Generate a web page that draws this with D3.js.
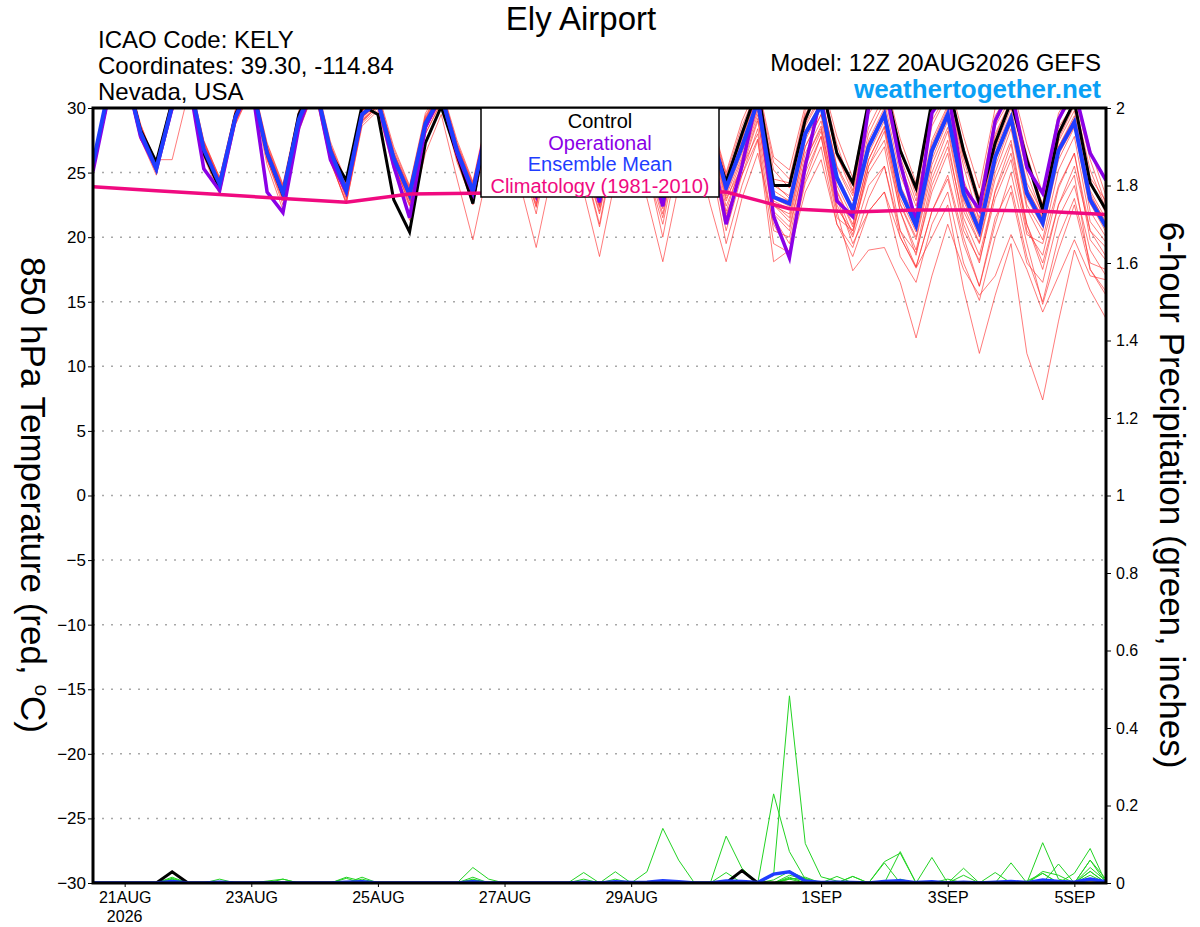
<!DOCTYPE html>
<html>
<head>
<meta charset="utf-8">
<script src="https://d3js.org/d3.v7.min.js"></script>
<style>
body { margin: 0; background: #fff; }
svg { display: block; }
text { font-family: "Liberation Sans", Arial, Helvetica, sans-serif; }
</style>
</head>
<body>
<div id="chart"></div>
<script>
// forecast hours from 12Z 20AUG2026, 6-hourly
var hours = [0,6,12,18,24,30,36,42,48,54,60,66,72,78,84,90,96,102,108,114,120,126,132,138,144,150,156,162,168,174,180,186,192,198,204,210,216,222,228,234,240,246,252,258,264,270,276,282,288,294,300,306,312,318,324,330,336,342,348,354,360,366,372,378,384];

var dayTicks = [12, 60, 108, 156, 204, 276, 324, 372];
var dayLabels = ["21AUG", "23AUG", "25AUG", "27AUG", "29AUG", "1SEP", "3SEP", "5SEP"];
var tempTicks = [-30,-25,-20,-15,-10,-5,0,5,10,15,20,25,30];
var precipTicks = [0,0.2,0.4,0.6,0.8,1,1.2,1.4,1.6,1.8,2];

// 850 hPa temperature (C)
var control = [25.5,31,33,28.3, 25.8,30.5,32.5,26.5, 23.8,29.5,32,26.5, 23.3,29.5,32,26.5, 24.4,30.2,29.5,22.9, 20.4,27.3,30.1,26.4, 22.6,29.5,32.5,27.5, 23.5,30,32.5,27.5, 23.4,29.5,32,27.5, 23.8,29.5,32,28, 24.3,28,31.5,24.0, 24.0,29.1,32,26.5, 24.2,30.5,32,26.7, 23.8,30.5,32,26.7, 22.6,27.3,30.5,26.0, 22.1,28.0,30.5,24.2, 22.1];
var operational = [25.1,31,33,27.8, 25.3,30,32.5,25.3, 23.6,29.2,32,23.5, 21.9,28.5,32,26, 23.5,29.5,30.5,25.5, 21.5,28.5,31,26.5, 23.4,29.5,32,27, 23.3,29.5,32.5,27, 22.7,29,32,26.5, 22.4,29,32,27.5, 21.0,25.5,31,21.6, 18.4,25.5,31,22.8, 21.6,30,32,25.7, 21.2,29.6,31.5,23.9, 22.1,29,31.5,25.4, 23.4,29.1,31.5,26.5, 24.4];
var ensMean = [25.7,31.5,33,28.1, 25.3,30.2,32.5,26.8, 24.1,29.3,32,26.5, 23.4,29.1,32,26.7, 23.6,29.5,30.5,26.1, 23.3,28.8,31,26.7, 23.6,29,32,27, 23.8,29.5,32,27, 23.3,29,32,27, 23.4,29,31.5,28.5, 23.8,27,30.5,23.1, 22.6,28,30.2,24.6, 22.1,27,29.5,23.6, 20.9,26.7,29.5,23.4, 20.5,26.2,29.2,23.4, 21.1,26.7,28.9,22.9, 20.8];

var climHours = [0,24,48,72,96,120,144,168,192,216,240,264,288,312,336,360,384];
var climatology = [23.9,23.6,23.3,23.0,22.7,23.35,23.4,23.45,23.5,23.5,23.5,22.2,21.95,22.1,22.1,22.0,21.75];

var member01 = [25.9,31.2,33.1,28.6, 25.6,30.4,32.6,27.2, 24.4,29.6,32.2,27.0, 23.8,29.4,32.3,27.1, 24.1,29.8,30.8,26.5, 23.8,29.0,31.3,27.2, 24.0,29.6,32.4,27.6, 24.3,30.0,32.5,27.5, 23.9,29.6,32.4,27.6, 24.1,29.8,32.0,29.0, 24.6,28.0,31.2,24.5, 24.2,29.5,31.8,26.2, 24.0,30.2,31.8,26.6, 23.6,29.8,31.5,26.3, 22.9,28.0,30.6,25.5, 22.6,28.5,30.4,24.6, 22.8];
var member02 = [25.4,31.0,32.8,27.8, 25.0,29.8,32.2,26.4, 23.6,29.0,31.7,26.0, 22.8,28.7,31.6,26.2, 23.0,29.0,30.2,25.6, 22.6,28.4,30.6,26.0, 22.8,28.5,31.4,26.2, 22.6,28.7,31.2,26.0, 21.8,27.8,30.8,25.6, 21.5,27.5,30.2,27.0, 21.6,25.2,29.0,22.0, 20.8,26.0,28.4,23.0, 19.5,22.0,23.5,20.0, 17.6,20.0,22.5,16.0, 11.0,15.5,19.5,11.0, 7.4,13.5,19.0,15.9, 13.7];
var member03 = [25.6,31.4,32.9,28.0, 25.4,30.0,32.4,26.6, 24.0,29.2,31.8,26.2, 23.2,29.0,31.8,26.4, 23.4,29.2,30.4,25.8, 23.0,28.6,30.8,26.3, 23.2,28.8,31.5,26.5, 22.4,28.2,31.0,25.6, 20.8,27.0,30.4,25.2, 21.0,27.0,30.0,26.5, 20.5,24.8,28.4,21.5, 19.5,25.0,27.8,22.0, 17.4,19.0,19.2,16.5, 12.2,17.0,21.0,17.5, 15.5,17.0,20.2,17.5, 14.2,17.0,19.8,17.0, 16.7];
var member04 = [25.5,31.3,33.0,27.9, 25.2,30.1,32.3,26.5, 23.8,29.1,31.9,26.3, 23.0,28.8,31.7,26.0, 22.6,28.8,30.0,25.5, 21.3,26.5,29.5,24.5, 19.8,25.5,29.0,24.0, 19.2,25.0,28.5,23.5, 18.5,24.5,28.0,23.0, 18.1,24.0,27.5,22.5, 18.1,23.0,26.5,21.0, 18.8,23.5,26.0,21.0, 19.2,23.0,25.5,20.5, 17.7,22.0,24.8,20.0, 16.2,21.0,25.0,19.5, 14.8,19.0,22.5,17.5, 15.8];
var member05 = [25.8,31.6,33.2,28.3, 25.0,30.0,32.2,26.4, 23.5,28.8,31.5,26.0, 22.5,28.4,31.3,25.8, 22.8,28.9,30.2,25.7, 22.5,28.0,30.5,26.0, 22.5,28.4,31.2,26.2, 21.8,28.0,31.0,25.8, 21.0,27.5,30.6,25.5, 20.0,26.5,29.5,26.0, 19.5,24.0,27.5,18.1, 19.0,24.5,27.8,21.5, 20.5,25.5,27.5,22.0, 18.6,24.0,27.0,21.5, 18.6,23.5,26.5,21.0, 17.5,22.5,25.5,20.5, 18.5];
var member06 = [25.6,31.6,33.2,28.4, 25.9,30.8,32.8,27.4, 24.6,29.8,32.4,27.2, 24.0,29.6,32.4,27.2, 24.2,30.0,31.0,26.8, 23.9,29.4,31.5,27.3, 24.2,29.8,32.6,27.8, 24.4,30.2,32.6,27.6, 23.8,29.6,32.5,27.8, 24.2,29.9,32.0,29.2, 24.8,28.6,31.5,25.8, 24.5,29.8,32.0,27.2, 23.6,30.0,32.0,27.0, 23.2,30.0,32.0,27.0, 23.0,29.4,31.4,26.4, 22.4,29.0,31.0,26.0, 22.5];
var member07 = [25.7,31.5,33.0,28.2, 25.5,30.2,32.4,26.9, 24.2,29.4,32.0,26.7, 23.5,29.2,32.1,26.8, 23.7,29.6,30.6,26.2, 23.3,28.9,31.1,26.8, 23.5,29.0,32.0,27.0, 23.6,29.4,32.0,26.8, 23.0,28.8,31.8,26.8, 23.2,28.8,31.3,28.0, 23.4,26.5,30.2,22.8, 22.2,27.5,30.0,24.0, 21.5,26.5,29.0,23.0, 20.4,26.0,29.0,22.8, 20.0,25.5,28.8,22.5, 20.5,26.0,28.5,22.0, 20.0];
var member08 = [25.9,31.0,32.6,27.5, 26.0,26.0,31.0,27.4, 24.4,29.5,32.2,26.9, 23.6,29.3,32.2,27.0, 23.9,29.7,30.7,26.3, 23.6,29.1,31.2,27.0, 23.8,29.3,32.2,27.2, 23.9,29.6,32.2,27.1, 23.5,29.2,32.0,27.2, 23.6,29.3,31.8,28.6, 24.0,27.8,31.0,24.2, 23.0,28.6,30.8,25.4, 22.8,28.0,30.5,24.8, 21.8,27.5,30.2,24.4, 21.5,27.0,30.0,24.2, 21.8,27.4,29.8,23.6, 21.4];
var member09 = [25.3,31.1,32.7,27.6, 24.8,29.7,32.0,26.2, 23.3,28.7,31.4,25.6, 22.1,28.2,31.4,25.9, 22.6,28.6,29.8,25.2, 22.4,28.0,30.4,25.8, 22.6,28.2,31.4,26.2, 22.3,28.4,31.2,26.0, 22.0,28.0,31.0,26.0, 21.8,27.8,30.6,27.2, 22.0,25.8,29.5,22.5, 21.2,26.5,29.0,23.2, 20.2,25.5,28.2,22.0, 19.0,24.5,27.5,21.0, 18.0,23.6,27.2,20.5, 18.6,23.8,26.5,19.8, 18.2];
var member10 = [25.8,31.8,33.4,28.8, 25.4,30.6,32.8,27.0, 24.3,29.6,32.3,26.8, 23.6,29.4,32.2,27.0, 23.8,29.8,30.9,26.4, 23.5,29.2,31.4,27.0, 23.9,29.4,32.3,27.4, 24.0,29.8,32.3,27.3, 23.6,29.4,32.2,27.4, 23.8,29.5,31.8,28.8, 24.2,27.6,31.0,24.0, 23.2,28.8,31.0,25.5, 23.2,28.5,31.0,25.6, 22.4,28.6,31.0,25.5, 21.2,27.8,30.5,25.0, 21.6,27.6,30.2,24.4, 21.8];
var member11 = [25.5,31.3,32.8,27.9, 25.1,30.0,32.3,26.6, 23.9,29.1,31.8,26.3, 23.1,28.9,31.8,26.4, 23.3,29.3,30.3,25.9, 23.0,28.6,30.8,26.4, 23.2,28.8,31.8,26.6, 23.0,29.0,31.6,26.4, 22.5,28.4,31.4,26.4, 22.6,28.4,31.0,27.6, 22.8,26.0,29.8,22.6, 21.5,27.0,29.5,23.5, 20.8,26.0,28.5,22.5, 19.8,25.0,28.2,22.0, 19.5,24.5,27.5,21.0, 18.0,22.5,24.8,17.5, 15.5];
var member12 = [25.6,31.4,32.9,28.0, 25.3,30.2,32.5,26.8, 24.0,29.2,31.9,26.4, 23.3,29.0,31.9,26.6, 23.5,29.4,30.4,26.0, 23.1,28.7,30.9,26.6, 23.4,28.9,31.9,26.9, 23.7,29.3,31.9,26.9, 23.2,28.9,31.9,27.0, 23.3,28.9,31.4,28.3, 23.6,26.8,30.4,23.0, 22.4,27.8,30.0,24.4, 22.0,26.8,29.4,23.4, 20.6,26.4,29.2,23.0, 20.2,26.0,29.0,23.0, 20.8,26.4,28.6,22.6, 20.4];
var member13 = [25.7,31.4,33.0,28.0, 25.2,30.1,32.4,26.7, 23.9,29.2,31.9,26.4, 23.2,28.9,31.8,26.4, 23.4,29.3,30.4,26.0, 23.2,28.6,30.9,26.5, 23.3,28.8,31.8,26.7, 23.2,29.0,31.6,26.5, 22.6,28.6,31.5,26.5, 22.4,28.2,30.8,27.4, 22.4,25.5,29.2,21.8, 20.5,26.0,28.6,22.5, 20.0,24.0,25.5,20.0, 17.7,22.0,24.5,19.5, 16.2,21.5,24.0,18.5, 15.0,20.0,23.0,18.0, 17.5];
var member14 = [25.8,31.6,33.1,28.3, 25.6,30.5,32.7,27.1, 24.5,29.7,32.3,27.0, 23.9,29.5,32.3,27.1, 24.0,29.9,30.9,26.6, 23.7,29.3,31.4,27.1, 24.1,29.6,32.4,27.6, 24.2,30.0,32.4,27.4, 23.7,29.5,32.3,27.6, 24.0,29.7,31.9,29.0, 24.4,28.2,31.3,25.2, 23.8,29.4,31.6,26.4, 23.4,29.5,31.5,26.2, 22.8,29.0,31.2,26.0, 22.2,28.6,30.8,25.8, 22.0,28.2,30.6,25.2, 22.2];
var member15 = [25.4,31.2,32.8,27.7, 25.0,29.9,32.1,26.3, 23.7,28.9,31.6,26.1, 22.9,28.6,31.6,26.2, 23.1,29.0,30.1,25.6, 22.8,28.4,30.6,26.1, 23.0,28.6,31.6,26.4, 22.9,28.8,31.4,26.2, 22.4,28.4,31.2,26.2, 22.8,28.5,31.0,27.8, 23.0,25.4,28.0,20.5, 20.0,25.5,28.2,22.2, 20.5,25.0,27.0,20.5, 18.8,23.5,26.5,20.5, 18.2,23.0,26.0,20.2, 19.5,24.0,26.5,20.5, 19.2];
var member16 = [25.7,31.7,33.2,28.5, 25.7,30.6,32.7,27.3, 24.3,29.6,32.2,26.9, 23.7,29.4,32.2,27.0, 23.9,29.8,30.8,26.5, 23.5,29.1,31.3,27.0, 23.7,29.2,32.2,27.2, 23.9,29.7,32.2,27.2, 23.4,29.2,32.2,27.3, 23.5,29.1,31.6,28.6, 23.9,27.4,30.8,23.6, 22.8,28.2,30.4,24.8, 22.4,27.5,30.0,24.0, 21.4,27.2,30.0,24.0, 21.0,26.8,29.6,23.8, 21.4,27.0,29.4,23.4, 21.0];
var member17 = [25.5,31.2,32.9,27.9, 25.1,30.0,32.3,26.5, 23.8,29.0,31.7,26.2, 23.0,28.8,31.7,26.3, 23.2,29.1,30.2,25.8, 22.9,28.5,30.7,26.2, 23.1,28.6,31.6,26.4, 22.9,28.8,31.4,26.3, 22.3,28.4,31.3,26.3, 22.2,28.2,30.8,27.2, 21.8,24.8,27.6,19.5, 18.8,24.2,27.0,21.0, 18.5,22.0,23.5,18.5, 16.5,21.0,23.5,18.0, 15.1,20.0,23.5,18.0, 16.5,21.5,24.0,19.0, 17.0];
var member18 = [25.9,31.4,32.9,28.1, 25.4,30.3,32.5,26.9, 24.1,29.3,32.0,26.6, 23.4,29.1,32.0,26.8, 23.6,29.5,30.5,26.1, 23.4,28.8,31.0,26.7, 23.6,29.0,32.0,27.0, 23.8,29.5,32.0,27.0, 23.3,29.0,32.0,27.0, 23.4,29.0,31.5,28.4, 23.8,27.0,30.6,23.2, 22.8,28.2,30.5,24.8, 21.8,27.2,29.8,23.8, 21.2,27.0,29.8,23.8, 20.8,26.5,29.4,23.8, 21.5,27.0,29.2,23.2, 21.2];
var member19 = [25.6,31.5,33.1,28.2, 25.3,30.3,32.6,26.9, 24.0,29.4,32.1,26.6, 23.2,29.0,31.9,26.6, 23.5,29.4,30.5,26.0, 23.1,28.7,30.9,26.5, 23.4,28.9,31.9,26.8, 23.5,29.3,31.8,26.7, 23.0,28.8,31.8,26.7, 23.0,28.7,31.2,28.0, 23.2,26.2,30.0,22.4, 21.8,27.0,29.5,23.6, 21.0,26.0,28.6,22.6, 20.0,25.6,28.5,22.4, 19.6,25.0,28.4,22.2, 19.8,25.2,27.8,21.2, 19.6];
var member20 = [25.8,31.8,33.3,28.7, 25.8,30.8,32.9,27.5, 24.6,29.9,32.5,27.3, 24.1,29.8,32.5,27.4, 24.3,30.2,31.2,27.0, 24.0,29.6,31.6,27.5, 24.3,30.0,32.8,28.0, 24.6,30.4,32.8,27.8, 24.0,29.8,32.6,28.0, 24.4,30.2,32.2,29.4, 25.0,29.0,31.8,26.2, 25.2,30.2,32.4,27.8, 24.6,30.6,32.4,27.6, 24.2,30.6,32.5,27.8, 23.8,30.0,32.0,27.2, 23.4,29.6,31.6,26.8, 23.2];
var members = [member01, member02, member03, member04, member05, member06, member07, member08, member09, member10,
               member11, member12, member13, member14, member15, member16, member17, member18, member19, member20];

// 6-hour precipitation (inches)
var precipControl = [0,0,0,0, 0,0.029,0,0, 0,0,0,0, 0,0,0,0, 0,0,0,0, 0,0,0,0, 0,0,0,0, 0,0,0,0, 0,0,0,0, 0,0,0,0, 0,0.032,0,0, 0,0,0,0, 0,0,0,0, 0,0,0,0, 0,0,0,0, 0,0,0,0, 0];
var precipMean = [0,0,0,0, 0,0.004,0,0, 0.002,0,0,0, 0,0,0,0, 0.002,0.003,0,0, 0,0,0,0, 0.003,0,0,0, 0,0,0,0.002, 0,0.003,0.001,0.002, 0.006,0.003,0,0, 0.005,0.004,0.001,0.023, 0.029,0.005,0.001,0.002, 0.001,0,0.004,0.006, 0.001,0.003,0,0.002, 0,0.002,0.004,0.001, 0.008,0.004,0.002,0.01, 0.003];
var precip01 = [0,0,0,0, 0,0.012,0,0, 0,0,0,0, 0,0,0,0, 0.015,0.005,0,0, 0,0,0,0, 0,0,0,0, 0,0,0,0, 0,0,0,0, 0,0,0,0, 0,0,0,0.02, 0.483,0.102,0.016,0.005, 0,0,0,0, 0,0,0,0.038, 0,0,0,0, 0.025,0,0,0.03, 0];
var precip02 = [0,0,0,0, 0,0.015,0,0, 0.01,0,0,0, 0,0,0,0, 0,0.015,0,0, 0,0,0,0, 0.04,0.01,0,0, 0,0,0,0.027, 0,0.01,0,0, 0,0,0,0, 0,0,0,0.23, 0.081,0.01,0,0, 0.017,0,0.052,0, 0,0,0,0, 0,0,0.052,0, 0,0.049,0,0.059, 0];
var precip03 = [0,0,0,0, 0,0.008,0,0, 0,0,0,0, 0.01,0,0,0, 0.012,0,0,0, 0,0,0,0, 0.01,0,0,0, 0,0,0,0, 0,0,0,0.029, 0.141,0.059,0,0, 0,0,0,0, 0.02,0.01,0,0.017, 0,0,0,0.081, 0,0,0,0, 0,0,0,0, 0.104,0.01,0,0, 0];
var precip04 = [0,0,0,0, 0,0.01,0,0, 0,0,0,0, 0,0,0,0, 0,0.01,0,0, 0,0,0,0, 0,0,0,0, 0,0,0,0.01, 0,0.029,0,0, 0,0,0,0, 0.121,0.038,0,0, 0.01,0,0,0, 0.017,0,0,0, 0,0.066,0,0, 0,0,0,0, 0,0,0.025,0.089, 0];
var precip05 = [0,0,0,0, 0,0,0,0, 0,0,0,0.005, 0.01,0,0,0, 0,0,0,0, 0,0,0,0, 0.015,0,0,0, 0,0,0,0, 0,0,0,0, 0,0,0,0, 0.027,0,0,0, 0.01,0.015,0,0, 0,0,0.055,0.077, 0,0,0,0.02, 0,0.027,0,0, 0,0,0,0.03, 0];
var precip06 = [0,0,0,0, 0,0.006,0,0, 0,0,0,0, 0,0,0,0, 0,0,0,0, 0,0,0,0, 0,0,0,0, 0,0,0,0, 0,0,0,0, 0,0,0,0, 0,0,0,0, 0.015,0,0,0, 0,0,0,0, 0,0,0,0, 0,0,0,0.005, 0.025,0,0,0.059, 0.01];
var precip07 = [0,0,0,0, 0,0,0,0, 0,0,0,0, 0,0,0,0, 0,0,0,0, 0,0,0,0, 0.008,0,0,0, 0,0,0,0, 0,0,0,0, 0,0,0,0, 0,0,0,0, 0.012,0.008,0,0, 0,0,0,0.01, 0,0,0,0, 0,0,0,0, 0.03,0.02,0,0.04, 0.005];
var precip08 = [0,0,0,0, 0,0.004,0,0, 0,0,0,0, 0,0,0,0, 0,0,0,0, 0,0,0,0, 0,0,0,0, 0,0,0,0, 0,0,0,0, 0,0,0,0, 0,0,0,0.008, 0.03,0.012,0,0, 0,0,0,0, 0,0,0.01,0, 0,0,0,0, 0,0,0,0.02, 0];
var precipMembers = [precip01, precip02, precip03, precip04, precip05, precip06, precip07, precip08];

var W = 1200, H = 927;
var plotLeft = 93, plotRight = 1106, plotTop = 108, plotBottom = 883;

var svg = d3.select("#chart").append("svg")
  .attr("width", W)
  .attr("height", H);

var x = d3.scaleLinear().domain([0, 384]).range([plotLeft, plotRight]);
var yT = d3.scaleLinear().domain([-30, 30]).range([plotBottom, plotTop]);
var yP = d3.scaleLinear().domain([0, 2]).range([plotBottom, plotTop]);

svg.append("clipPath").attr("id", "plotclip")
  .append("rect")
  .attr("x", plotLeft).attr("y", plotTop - 1)
  .attr("width", plotRight - plotLeft).attr("height", plotBottom - plotTop + 1);

// dotted grid on temperature ticks
svg.append("g").selectAll("line")
  .data(tempTicks.slice(1, -1))
  .enter().append("line")
  .attr("x1", plotLeft).attr("x2", plotRight)
  .attr("y1", function(d) { return yT(d); })
  .attr("y2", function(d) { return yT(d); })
  .attr("stroke", "#a8a8a8")
  .attr("stroke-width", 1.5)
  .attr("stroke-dasharray", "2,7");

var plot = svg.append("g").attr("clip-path", "url(#plotclip)");

var tLine = d3.line()
  .x(function(d, i) { return x(hours[i]); })
  .y(function(d) { return yT(d); });

var pLine = d3.line()
  .x(function(d, i) { return x(hours[i]); })
  .y(function(d) { return yP(d); });

var climLine = d3.line()
  .x(function(d, i) { return x(climHours[i]); })
  .y(function(d) { return yT(d); });

// ensemble members
plot.selectAll(".member")
  .data(members)
  .enter().append("path")
  .attr("class", "member")
  .attr("d", tLine)
  .attr("fill", "none")
  .attr("stroke", "#ff2a2a")
  .attr("stroke-opacity", 0.62)
  .attr("stroke-width", 1);

plot.selectAll(".pmember")
  .data(precipMembers)
  .enter().append("path")
  .attr("class", "pmember")
  .attr("d", pLine)
  .attr("fill", "none")
  .attr("stroke", "#22d322")
  .attr("stroke-width", 1);

// precip control and mean
plot.append("path").datum(precipControl)
  .attr("d", pLine).attr("fill", "none")
  .attr("stroke", "#000").attr("stroke-width", 3);
plot.append("path").datum(precipMean)
  .attr("d", pLine).attr("fill", "none")
  .attr("stroke", "#1f3dff").attr("stroke-width", 3.5);

// main temperature lines
plot.append("path").datum(control)
  .attr("d", tLine).attr("fill", "none")
  .attr("stroke", "#000").attr("stroke-width", 3);
plot.append("path").datum(operational)
  .attr("d", tLine).attr("fill", "none")
  .attr("stroke", "#8a00e6").attr("stroke-width", 3.5);
plot.append("path").datum(ensMean)
  .attr("d", tLine).attr("fill", "none")
  .attr("stroke", "#1f3dff").attr("stroke-width", 4);
plot.append("path").datum(climatology)
  .attr("d", climLine).attr("fill", "none")
  .attr("stroke", "#f00a80").attr("stroke-width", 3.5);

// frame
svg.append("rect")
  .attr("x", plotLeft).attr("y", plotTop)
  .attr("width", plotRight - plotLeft).attr("height", plotBottom - plotTop)
  .attr("fill", "none")
  .attr("stroke", "#000")
  .attr("stroke-width", 3);

// left axis
var leftAxis = svg.append("g")
  .attr("transform", "translate(" + plotLeft + ",0)")
  .call(d3.axisLeft(yT).tickValues(tempTicks).tickSize(5).tickPadding(2));
leftAxis.select(".domain").remove();
leftAxis.selectAll("text").attr("font-size", 17).attr("fill", "#000")
  .style("font-family", "'Liberation Sans', Arial, sans-serif");

// right axis
var rightAxis = svg.append("g")
  .attr("transform", "translate(" + plotRight + ",0)")
  .call(d3.axisRight(yP).tickValues(precipTicks).tickSize(5).tickPadding(5)
    .tickFormat(function(d) { return String(d); }));
rightAxis.select(".domain").remove();
rightAxis.selectAll("text").attr("font-size", 16).attr("fill", "#000")
  .style("font-family", "'Liberation Sans', Arial, sans-serif");

// bottom axis
var bottomAxis = svg.append("g")
  .attr("transform", "translate(0," + plotBottom + ")")
  .call(d3.axisBottom(x).tickValues(dayTicks).tickSize(4).tickPadding(5)
    .tickFormat(function(d, i) { return dayLabels[i]; }));
bottomAxis.select(".domain").remove();
bottomAxis.selectAll("text").attr("font-size", 16).attr("fill", "#000")
  .style("font-family", "'Liberation Sans', Arial, sans-serif");

svg.append("text")
  .attr("x", x(dayTicks[0]))
  .attr("y", 922)
  .attr("text-anchor", "middle")
  .attr("font-size", 16)
  .text("2026");

// header texts
svg.append("text")
  .attr("x", 581).attr("y", 30)
  .attr("text-anchor", "middle")
  .attr("font-size", 33)
  .text("Ely Airport");

var info = ["ICAO Code: KELY", "Coordinates: 39.30, -114.84", "Nevada, USA"];
svg.append("g").selectAll("text")
  .data(info)
  .enter().append("text")
  .attr("x", 98)
  .attr("y", function(d, i) { return 48 + i * 26; })
  .attr("font-size", 24)
  .text(function(d) { return d; });

svg.append("text")
  .attr("x", 1101).attr("y", 71)
  .attr("text-anchor", "end")
  .attr("font-size", 24)
  .text("Model: 12Z 20AUG2026 GEFS");

svg.append("text")
  .attr("x", 1101).attr("y", 98)
  .attr("text-anchor", "end")
  .attr("font-size", 26)
  .attr("font-weight", "bold")
  .attr("fill", "#0aa0f5")
  .text("weathertogether.net");

// axis titles, both rotated clockwise
var yl = svg.append("text")
  .attr("transform", "translate(21,495) rotate(90)")
  .attr("text-anchor", "middle")
  .attr("font-size", 35)
  .text("850 hPa Temperature (red, ");
yl.append("tspan").attr("font-size", 21).attr("dy", -14).text("o");
yl.append("tspan").attr("dy", 14).text("C)");

svg.append("text")
  .attr("transform", "translate(1160,495) rotate(90)")
  .attr("text-anchor", "middle")
  .attr("font-size", 35)
  .text("6-hour Precipitation (green, inches)");

// legend
var legendItems = ["Control", "Operational", "Ensemble Mean", "Climatology (1981-2010)"];
var legendColors = ["#000", "#8a00e6", "#1f3dff", "#f00a80"];
var legend = svg.append("g");
legend.append("rect")
  .attr("x", 481).attr("y", plotTop)
  .attr("width", 238).attr("height", 89)
  .attr("fill", "#fff")
  .attr("stroke", "#000")
  .attr("stroke-width", 1.5);
legend.selectAll("text")
  .data(legendItems)
  .enter().append("text")
  .attr("x", 600)
  .attr("y", function(d, i) { return 128 + i * 21.5; })
  .attr("text-anchor", "middle")
  .attr("font-size", 20)
  .attr("fill", function(d, i) { return legendColors[i]; })
  .text(function(d) { return d; });
</script>
</body>
</html>
